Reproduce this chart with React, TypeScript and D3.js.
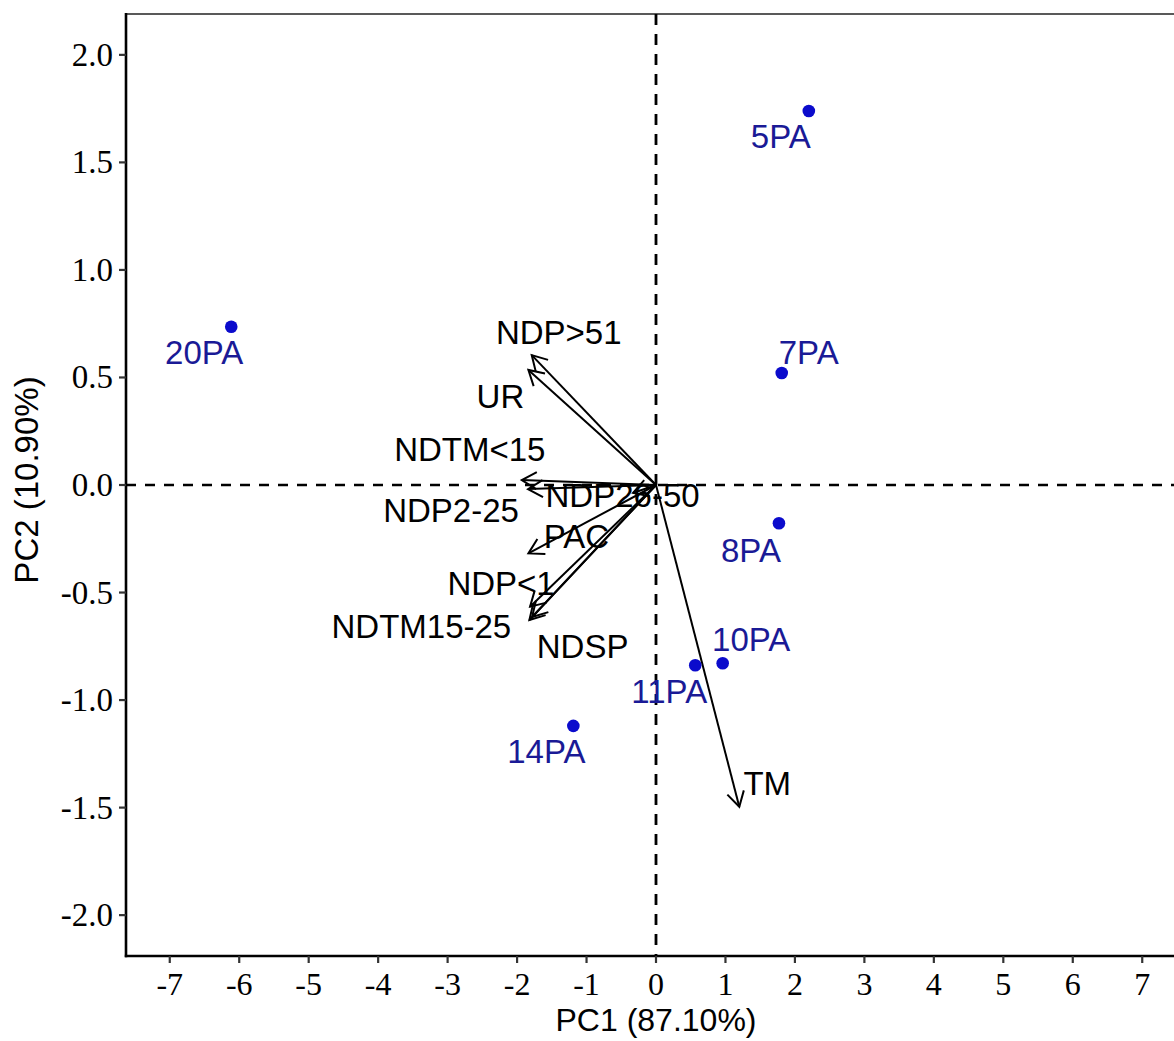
import React from 'react';
import * as d3 from 'd3';

// ---- data ----
const pointNames = ['5PA', '7PA', '8PA', '10PA', '11PA', '14PA', '20PA'];
const pointPC1 = [2.2, 1.81, 1.77, 0.96, 0.565, -1.19, -6.115];
const pointPC2 = [1.739, 0.521, -0.178, -0.829, -0.838, -1.12, 0.736];

const varNames = ['NDP>51', 'UR', 'NDTM<15', 'NDP2-25', 'NDP26-50', 'PAC', 'NDP<1', 'NDTM15-25', 'NDSP', 'TM'];
const varPC1 = [-1.789, -1.837, -1.932, -1.842, -0.33, -1.837, -1.813, -1.823, -1.784, 1.199];
const varPC2 = [0.604, 0.535, 0.023, -0.019, -0.037, -0.318, -0.566, -0.628, -0.614, -1.496];

const xTickValues = [-7, -6, -5, -4, -3, -2, -1, 0, 1, 2, 3, 4, 5, 6, 7];
const yTickValues = [-2, -1.5, -1, -0.5, 0, 0.5, 1, 1.5, 2];

const xTitle = 'PC1 (87.10%)';
const yTitle = 'PC2 (10.90%)';

// ---- layout (label nudges in px, relative to mark) ----
const pointLabelNudge: Record<string, [number, number]> = {
  '5PA': [-28, 25], '7PA': [27, -21], '8PA': [-28, 27], '10PA': [28.5, -24],
  '11PA': [-26, 26], '14PA': [-27, 25], '20PA': [-27, 25],
};
const varLabelNudge: Record<string, [number, number]> = {
  'NDP>51': [27, -22.5], 'UR': [-28, 26], 'NDTM<15': [-52, -31], 'NDP2-25': [-77, 21],
  'NDP26-50': [-10.5, 2], 'PAC': [48, -17], 'NDP<1': [-29, -24], 'NDTM15-25': [-108, 6],
  'NDSP': [50.5, 29], 'TM': [28, -24],
};

const W = 1174;
const H = 1041;
const left = 126, top = 14, bottom = 956, right = 1186;

const SANS = '"Liberation Sans", Arial, sans-serif';
const SERIF = '"Liberation Serif", "Times New Roman", serif';

const fmtY = (v: number) => d3.format('.1f')(v).replace('\u2212', '-');
const fmtX = (v: number) => d3.format('d')(v).replace('\u2212', '-');

export default function App() {
  const x = d3.scaleLinear().domain([-7.63, 7.63]).range([left, right]);
  const y = d3.scaleLinear().domain([-2.19, 2.19]).range([bottom, top]);
  const labelSize = 33;
  const baseShift = labelSize * 0.358;

  const headLen = 17;
  const headAng = Math.PI / 6;
  const arrowHead = (x0: number, y0: number, x1: number, y1: number) => {
    const a = Math.atan2(y1 - y0, x1 - x0);
    const p = d3.path();
    p.moveTo(x1 - headLen * Math.cos(a - headAng), y1 - headLen * Math.sin(a - headAng));
    p.lineTo(x1, y1);
    p.lineTo(x1 - headLen * Math.cos(a + headAng), y1 - headLen * Math.sin(a + headAng));
    return p.toString();
  };

  return (
    <svg width={W} height={H} style={{ position: 'absolute', left: 0, top: 0, background: '#fff' }}>
      <rect x={0} y={0} width={W} height={H} fill="#fff" />
      {/* top border */}
      <line x1={left} x2={W} y1={top} y2={top} stroke="#222" strokeWidth={1.5} />
      {/* reference dashed lines */}
      <line x1={left} x2={W} y1={y(0)} y2={y(0)} stroke="#000" strokeWidth={2.5} strokeDasharray="10 9" />
      <line x1={x(0)} x2={x(0)} y1={top} y2={bottom} stroke="#000" strokeWidth={2.8} strokeDasharray="11 9" />

      {/* variable arrows */}
      {varNames.map((n, i) => {
        const x1 = x(varPC1[i]);
        const y1 = y(varPC2[i]);
        return (
          <g key={n} stroke="#000" strokeWidth={2} fill="none">
            <line x1={x(0)} y1={y(0)} x2={x1} y2={y1} />
            <path d={arrowHead(x(0), y(0), x1, y1)} />
          </g>
        );
      })}
      {varNames.map((n, i) => {
        const [dx, dy] = varLabelNudge[n];
        return (
          <text key={'t' + n} x={x(varPC1[i]) + dx} y={y(varPC2[i]) + dy + baseShift}
            textAnchor="middle" fontFamily={SANS} fontSize={labelSize} fill="#000">{n}</text>
        );
      })}

      {/* points */}
      {pointNames.map((n, i) => (
        <circle key={n} cx={x(pointPC1[i])} cy={y(pointPC2[i])} r={6.3} fill="#0b0bcc" />
      ))}
      {pointNames.map((n, i) => {
        const [dx, dy] = pointLabelNudge[n];
        return (
          <text key={'p' + n} x={x(pointPC1[i]) + dx} y={y(pointPC2[i]) + dy + baseShift}
            textAnchor="middle" fontFamily={SANS} fontSize={labelSize} fill="#1a1a96">{n}</text>
        );
      })}

      {/* axes */}
      <line x1={left} x2={left} y1={top - 1} y2={bottom + 1.2} stroke="#000" strokeWidth={2.6} />
      <line x1={left - 1.2} x2={W} y1={bottom} y2={bottom} stroke="#000" strokeWidth={2.6} />
      {yTickValues.map((v) => (
        <g key={'y' + v}>
          <line x1={left - 7} x2={left} y1={y(v)} y2={y(v)} stroke="#333" strokeWidth={2.2} />
          <text x={left - 13} y={y(v) + 11} textAnchor="end" fontFamily={SERIF} fontSize={33} fill="#000">
            {fmtY(v)}
          </text>
        </g>
      ))}
      {xTickValues.map((v) => (
        <g key={'x' + v}>
          <line x1={x(v)} x2={x(v)} y1={bottom} y2={bottom + 7} stroke="#333" strokeWidth={2.2} />
          <text x={x(v)} y={995} textAnchor="middle" fontFamily={SERIF} fontSize={32} fill="#000">
            {fmtX(v)}
          </text>
        </g>
      ))}
      <text x={x(0)} y={1031} textAnchor="middle" fontFamily={SANS} fontSize={32} fill="#000">{xTitle}</text>
      <text transform={`translate(38, 480) rotate(-90)`} textAnchor="middle" fontFamily={SANS} fontSize={33} fill="#000">{yTitle}</text>
    </svg>
  );
}
